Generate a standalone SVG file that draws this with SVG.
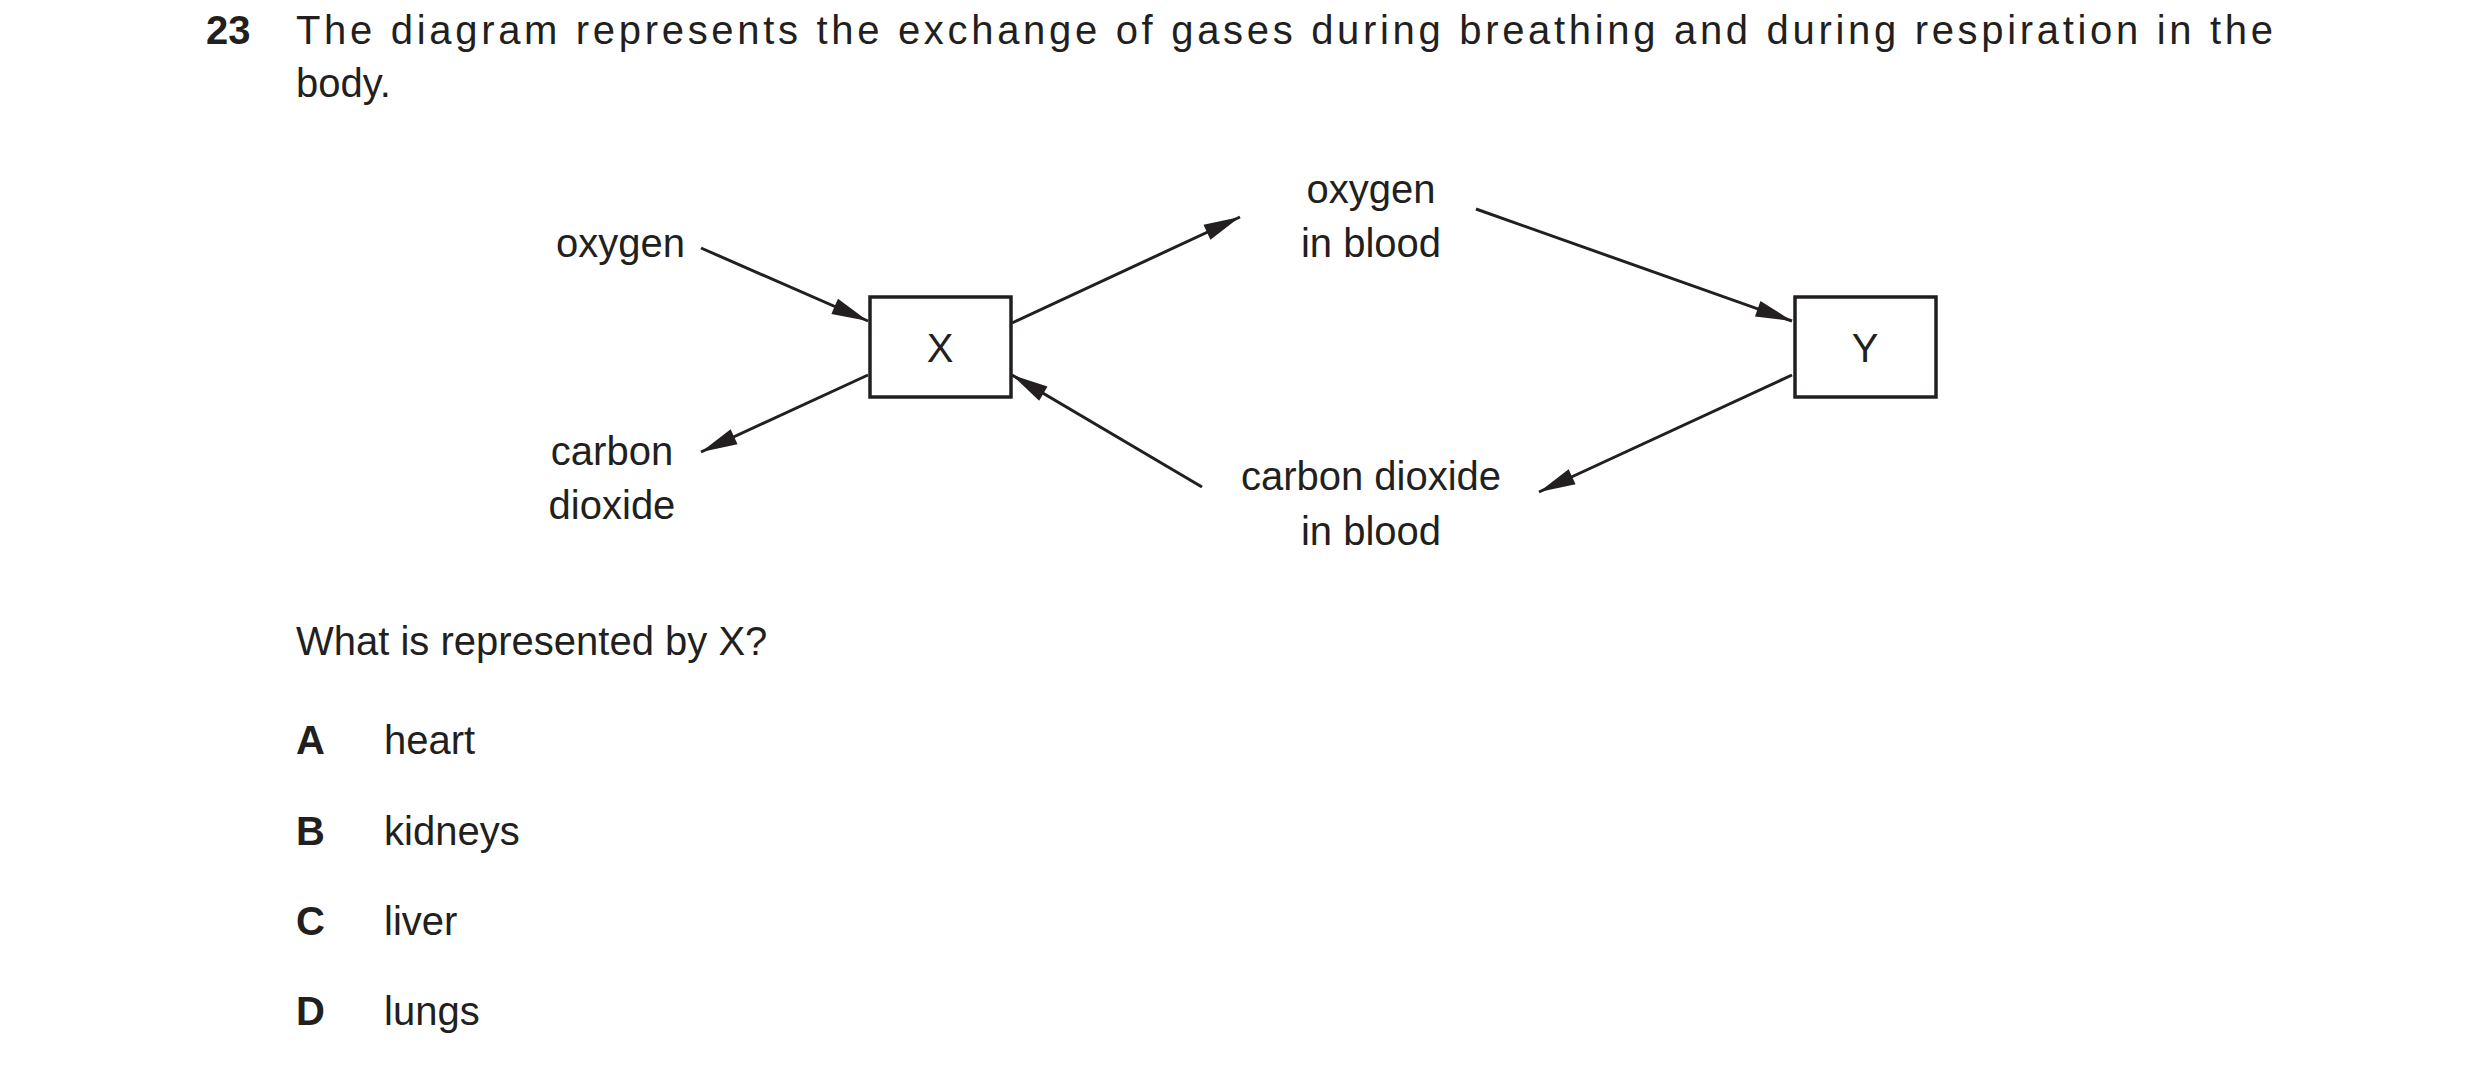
<svg xmlns="http://www.w3.org/2000/svg" width="2480" height="1075" viewBox="0 0 2480 1075">
<style>
text{font-family:"Liberation Sans",Arial,sans-serif;font-size:40px;fill:#231f20}
.b{font-weight:bold}
.c{text-anchor:middle}
.box{fill:#fff;stroke:#231f20;stroke-width:3.5}
.ln{stroke:#231f20;stroke-width:3;fill:none;marker-end:url(#ah)}
</style>
<defs><marker id="ah" viewBox="0 0 10 10" refX="10" refY="5" markerWidth="11" markerHeight="11" markerUnits="userSpaceOnUse" orient="auto" style="overflow:visible"><path d="M0,0 L10,5 L0,10 z" fill="#231f20" transform="scale(3.3,1.5) translate(-7,-1.7)"/></marker></defs>
<rect width="2480" height="1075" fill="#fff"/>
<text class="b" x="206" y="44">23</text>
<text x="296" y="44" textLength="1977" lengthAdjust="spacing">The diagram represents the exchange of gases during breathing and during respiration in the</text>
<text x="296" y="97">body.</text>
<g id="nodeX"><rect class="box" x="870" y="297" width="141" height="100"/><text class="c" x="940" y="362">X</text></g>
<g id="nodeY"><rect class="box" x="1795" y="297" width="141" height="100"/><text class="c" x="1865" y="362">Y</text></g>
<g id="oxygen"><text x="685" y="257" text-anchor="end">oxygen</text></g>
<g id="oxyblood"><text class="c" x="1371" y="203">oxygen</text><text class="c" x="1371" y="257">in blood</text></g>
<g id="co2"><text class="c" x="612" y="465">carbon</text><text class="c" x="612" y="519">dioxide</text></g>
<g id="co2blood"><text class="c" x="1371" y="490">carbon dioxide</text><text class="c" x="1371" y="545">in blood</text></g>
<g id="connectors">
<line class="ln" x1="701" y1="248" x2="868" y2="321"/>
<line class="ln" x1="1012" y1="323" x2="1240" y2="217"/>
<line class="ln" x1="1476" y1="209" x2="1792" y2="321"/>
<line class="ln" x1="1792" y1="375" x2="1539" y2="492"/>
<line class="ln" x1="1202" y1="487" x2="1012" y2="375"/>
<line class="ln" x1="868" y1="375" x2="701" y2="452"/>
</g>
<text x="296" y="655">What is represented by X?</text>
<text class="b" x="296" y="754">A</text><text x="384" y="754">heart</text>
<text class="b" x="296" y="845">B</text><text x="384" y="845">kidneys</text>
<text class="b" x="296" y="935">C</text><text x="384" y="935">liver</text>
<text class="b" x="296" y="1025">D</text><text x="384" y="1025">lungs</text>
</svg>
